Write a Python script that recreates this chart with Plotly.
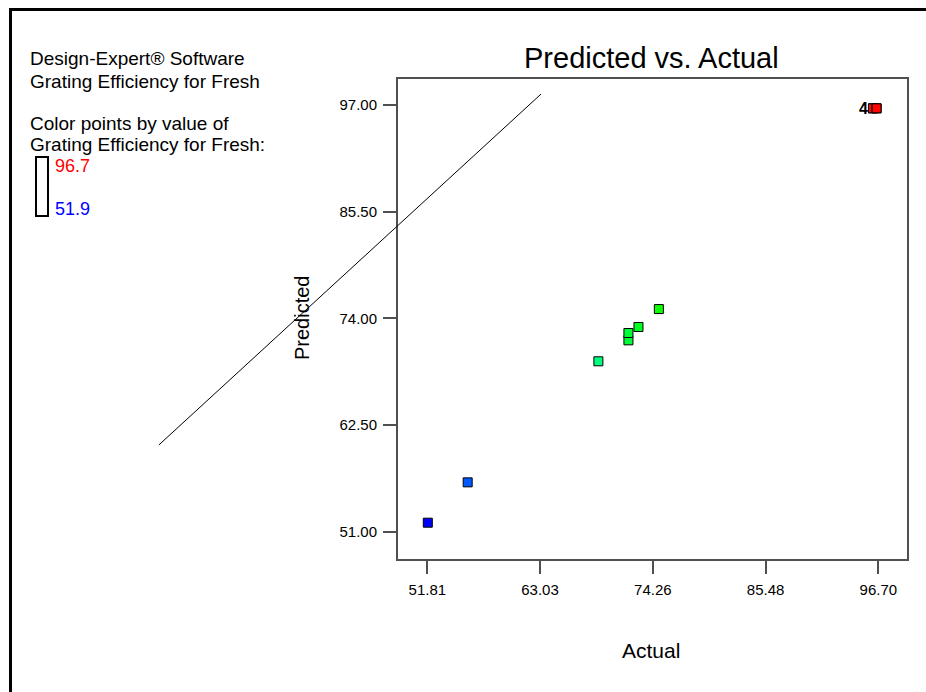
import plotly.graph_objects as go

# ---- data ----
actual = [51.86, 55.83, 68.84, 71.83, 71.83, 72.83, 74.86, 96.17, 96.17, 96.53, 96.53]
predicted = [51.97, 56.32, 69.37, 71.63, 72.42, 73.07, 75.00, 96.64, 96.64, 96.64, 96.64]
color_min, color_max = 51.9, 96.7

x_tick_vals = [51.81, 63.03, 74.26, 85.48, 96.70]
x_tick_text = ["51.81", "63.03", "74.26", "85.48", "96.70"]
y_tick_vals = [51.00, 62.50, 74.00, 85.50, 97.00]
y_tick_text = ["51.00", "62.50", "74.00", "85.50", "97.00"]

# reference line (as drawn in the original, extending out of the plot box)
ref_line_x = [25.09, 63.13]
ref_line_y = [60.35, 98.18]

overlap_label = "4"
overlap_x, overlap_y = 96.17, 96.64

# ---- layout geometry ----
W, H = 926, 692
x_range = [48.894, 99.557]
y_range = [48.057, 99.803]
x_dom = [398 / W, 907 / W]
y_dom = [1 - 559 / H, 1 - 79 / H]


def full_range(r, d):
    span = (r[1] - r[0]) / (d[1] - d[0])
    return [r[0] - d[0] * span, r[1] + (1 - d[1]) * span]


FONT = "Liberation Sans, Arial, sans-serif"
AX = "#505050"

fig = go.Figure()

fig.add_trace(go.Scatter(
    x=ref_line_x, y=ref_line_y, mode="lines",
    line=dict(color="black", width=1),
    xaxis="x2", yaxis="y2", hoverinfo="skip", showlegend=False,
))

fig.add_trace(go.Scatter(
    x=actual, y=predicted, mode="markers",
    marker=dict(
        symbol="square", size=9,
        color=actual, cmin=color_min, cmax=color_max,
        colorscale=[[0, "#0000ff"], [0.25, "#00ffff"], [0.5, "#00ff00"],
                    [0.75, "#ffff00"], [1, "#ff0000"]],
        line=dict(color="black", width=1),
    ),
    showlegend=False,
))

axis_common = dict(
    showgrid=False, zeroline=False, showline=True, mirror=True,
    linecolor=AX, linewidth=2, ticks="outside", ticklen=13,
    tickwidth=1.5, tickcolor=AX, tickmode="array",
    tickfont=dict(family=FONT, size=15, color="black"),
    ticklabelstandoff=3,
)

fig.update_layout(
    width=W, height=H,
    margin=dict(l=0, r=0, t=0, b=0),
    paper_bgcolor="white",
    plot_bgcolor="rgba(0,0,0,0)",
    xaxis=dict(domain=x_dom, range=x_range, tickvals=x_tick_vals,
               ticktext=x_tick_text, anchor="y", **axis_common),
    yaxis=dict(domain=y_dom, range=y_range, tickvals=y_tick_vals,
               ticktext=y_tick_text, anchor="x", **axis_common),
    xaxis2=dict(domain=[0, 1], range=full_range(x_range, x_dom),
                anchor="y2", visible=False),
    yaxis2=dict(domain=[0, 1], range=full_range(y_range, y_dom),
                anchor="x2", visible=False),
    showlegend=False,
)


def px_x(p):
    return p / W


def px_y(p):
    return 1 - p / H


annots = []


def txt(text, x, y, size, color="black", xanchor="left", textangle=0):
    annots.append(dict(
        text=text, x=px_x(x), y=px_y(y), xref="paper", yref="paper",
        xanchor=xanchor, yanchor="middle", showarrow=False,
        textangle=textangle,
        font=dict(family=FONT, size=size, color=color),
    ))


txt("Design-Expert® Software", 28, 59, 19)
txt("Grating Efficiency for Fresh", 28, 81, 19)
txt("Color points by value of", 28, 123, 19)
txt("Grating Efficiency for Fresh:", 28, 145, 19)
txt("96.7", 53, 166, 18, color="#ff0000")
txt("51.9", 53, 209, 18, color="#0000ff")
txt("Predicted vs. Actual", 651, 58, 29, xanchor="center")
txt("Actual", 651, 650, 21, xanchor="center")
txt("Predicted", 302, 318, 20, xanchor="center", textangle=-90)

annots.append(dict(
    text=f"<b>{overlap_label}</b>", x=overlap_x, y=overlap_y, xref="x", yref="y",
    xanchor="right", yanchor="middle", xshift=-3, showarrow=False,
    font=dict(family=FONT, size=16, color="black"),
))

fig.update_layout(annotations=annots)

shapes = [
    # outer frame
    dict(type="rect", xref="paper", yref="paper",
         x0=px_x(10.5), x1=1.2, y0=-0.2, y1=px_y(9.5),
         line=dict(color="black", width=3)),
    # colour key box
    dict(type="rect", xref="paper", yref="paper",
         x0=px_x(36), x1=px_x(48), y0=px_y(216), y1=px_y(157),
         line=dict(color="black", width=2)),
]
fig.update_layout(shapes=shapes)

fig.write_html("out.html")
